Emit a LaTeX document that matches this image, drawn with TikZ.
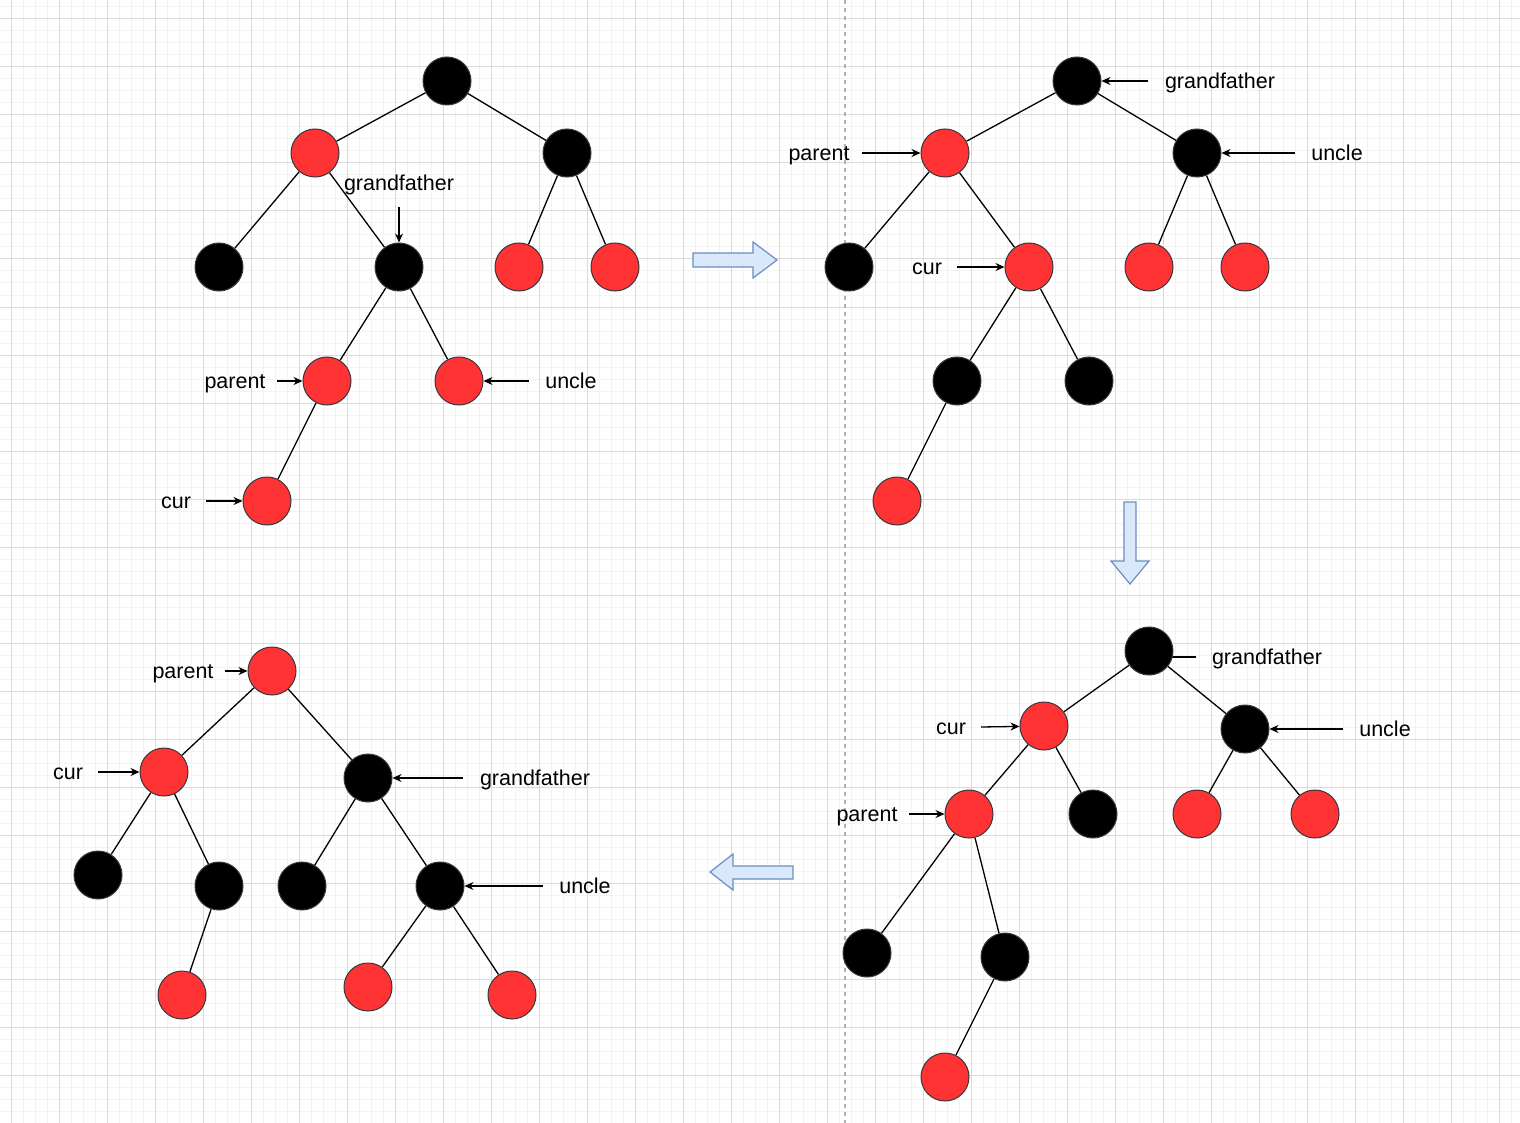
\documentclass[tikz,border=0pt]{standalone}
\usepackage{fontspec}
\setmainfont{Liberation Sans}
\usetikzlibrary{backgrounds,arrows.meta}
\definecolor{rbred}{HTML}{FF3333}
\definecolor{rbstroke}{HTML}{36393D}
\definecolor{gridminor}{HTML}{F3F3F3}
\definecolor{gridmajor}{HTML}{DADADA}
\definecolor{arrfill}{HTML}{DAE8FC}
\definecolor{arrdraw}{HTML}{6C8EBF}
\tikzset{
  rn/.style={circle,draw=rbstroke,fill=rbred,line width=1pt,minimum size=48pt,inner sep=0pt},
  bn/.style={circle,draw=rbstroke,fill=black,line width=1pt,minimum size=48pt,inner sep=0pt},
  edge/.style={draw=black,line width=1.3pt},
  lab/.style={draw=black,line width=1.3pt,-{Stealth[length=9pt,width=8pt]}},
  txt/.style={font=\fontsize{21.5}{25}\selectfont,inner sep=0pt,text=black,anchor=base,yshift=-7.5pt},
  blockarrow/.style={draw=arrdraw,fill=arrfill,line width=1.2pt,line join=miter},
}
\begin{document}
\begin{tikzpicture}[x=1pt,y=-1pt]
\useasboundingbox (0,0) rectangle (1520,1123);
\begin{pgfonlayer}{background}
\fill[white] (0,0) rectangle (1520,1123);
\foreach \x in {-1,11,...,1520} \draw[gridminor,line width=1pt] (\x,0) -- (\x,1123);
\foreach \y in {7,19,...,1123} \draw[gridminor,line width=1pt] (0,\y) -- (1520,\y);
\foreach \x in {11,59,...,1520} \draw[gridmajor,line width=1pt] (\x,0) -- (\x,1123);
\foreach \y in {19,67,...,1123} \draw[gridmajor,line width=1pt] (0,\y) -- (1520,\y);
\draw[color=black!30,line width=1.2pt,dash pattern=on 4pt off 4pt] (845,0) -- (845,1123);
\end{pgfonlayer}

% ---------- Tree 1 ----------
\node[bn] (a1) at (447,81) {};
\node[rn] (b1) at (315,153) {};
\node[bn] (c1) at (567,153) {};
\node[bn] (d1) at (219,267) {};
\node[bn] (e1) at (399,267) {};
\node[rn] (f1) at (519,267) {};
\node[rn] (g1) at (615,267) {};
\node[rn] (h1) at (327,381) {};
\node[rn] (i1) at (459,381) {};
\node[rn] (j1) at (267,501) {};
\node[txt] (t1g) at (399,183) {grandfather};
\node[txt] (t1p) at (235,381) {parent};
\node[txt] (t1u) at (571,381) {uncle};
\node[txt] (t1c) at (176,501) {cur};
\coordinate (q1g) at (399,207);
\coordinate (q1p) at (277,381);
\coordinate (q1u) at (529,381);
\coordinate (q1c) at (206,501);

% ---------- Tree 2 ----------
\node[bn] (a2) at (1077,81) {};
\node[rn] (b2) at (945,153) {};
\node[bn] (c2) at (1197,153) {};
\node[bn] (d2) at (849,267) {};
\node[rn] (e2) at (1029,267) {};
\node[rn] (f2) at (1149,267) {};
\node[rn] (g2) at (1245,267) {};
\node[bn] (h2) at (957,381) {};
\node[bn] (i2) at (1089,381) {};
\node[rn] (j2) at (897,501) {};
\node[txt] (t2g) at (1220,81) {grandfather};
\node[txt] (t2p) at (819,153) {parent};
\node[txt] (t2u) at (1337,153) {uncle};
\node[txt] (t2c) at (927,267) {cur};
\coordinate (q2g) at (1148,81);
\coordinate (q2p) at (862,153);
\coordinate (q2u) at (1295,153);
\coordinate (q2c) at (957,267);

% ---------- Tree 3 ----------
\node[bn] (a3) at (1149,651) {};
\node[rn] (b3) at (1044,726) {};
\node[bn] (c3) at (1245,729) {};
\node[rn] (d3) at (969,814) {};
\node[bn] (e3) at (1093,814) {};
\node[rn] (f3) at (1197,814) {};
\node[rn] (g3) at (1315,814) {};
\node[bn] (h3) at (867,953) {};
\node[bn] (i3) at (1005,957) {};
\node[rn] (j3) at (945,1077) {};
\node[txt] (t3g) at (1267,657) {grandfather};
\node[txt] (t3c) at (951,727) {cur};
\node[txt] (t3u) at (1385,729) {uncle};
\node[txt] (t3p) at (867,814) {parent};
\coordinate (q3g) at (1196,657);
\coordinate (q3c) at (981,727);
\coordinate (q3u) at (1343,729);
\coordinate (q3p) at (909,814);

% ---------- Tree 4 ----------
\node[rn] (a4) at (272,671) {};
\node[rn] (b4) at (164,772) {};
\node[bn] (c4) at (368,778) {};
\node[bn] (d4) at (98,875) {};
\node[bn] (e4) at (219,886) {};
\node[rn] (f4) at (182,995) {};
\node[bn] (g4) at (302,886) {};
\node[bn] (h4) at (440,886) {};
\node[rn] (i4) at (368,987) {};
\node[rn] (j4) at (512,995) {};
\node[txt] (t4p) at (183,671) {parent};
\node[txt] (t4c) at (68,772) {cur};
\node[txt] (t4g) at (535,778) {grandfather};
\node[txt] (t4u) at (585,886) {uncle};
\coordinate (q4p) at (225,671);
\coordinate (q4c) at (98,772);
\coordinate (q4g) at (463,778);
\coordinate (q4u) at (543,886);

% ---------- block arrows ----------
\draw[blockarrow] (693,253) -- (753,253) -- (753,242) -- (777,260) -- (753,278) -- (753,267) -- (693,267) -- cycle;
\draw[blockarrow] (1124,502) -- (1136,502) -- (1136,561) -- (1149,561) -- (1130,584) -- (1111,561) -- (1124,561) -- cycle;
\draw[blockarrow] (793,866) -- (733,866) -- (733,854) -- (710,872) -- (733,890) -- (733,879) -- (793,879) -- cycle;

\begin{pgfonlayer}{background}
% tree 1 edges
\draw[edge] (a1) -- (b1); \draw[edge] (a1) -- (c1);
\draw[edge] (b1) -- (d1); \draw[edge] (b1) -- (e1);
\draw[edge] (c1) -- (f1); \draw[edge] (c1) -- (g1);
\draw[edge] (e1) -- (h1); \draw[edge] (e1) -- (i1);
\draw[edge] (h1) -- (j1);
% tree 2 edges
\draw[edge] (a2) -- (b2); \draw[edge] (a2) -- (c2);
\draw[edge] (b2) -- (d2); \draw[edge] (b2) -- (e2);
\draw[edge] (c2) -- (f2); \draw[edge] (c2) -- (g2);
\draw[edge] (e2) -- (h2); \draw[edge] (e2) -- (i2);
\draw[edge] (h2) -- (j2);
% tree 3 edges
\draw[edge] (a3) -- (b3); \draw[edge] (a3) -- (c3);
\draw[edge] (b3) -- (d3); \draw[edge] (b3) -- (e3);
\draw[edge] (c3) -- (f3); \draw[edge] (c3) -- (g3);
\draw[edge] (d3) -- (h3); \draw[edge] (d3) -- (i3);
\draw[edge] (i3) -- (j3);
% tree 4 edges
\draw[edge] (a4) -- (b4); \draw[edge] (a4) -- (c4);
\draw[edge] (b4) -- (d4); \draw[edge] (b4) -- (e4);
\draw[edge] (e4) -- (f4);
\draw[edge] (c4) -- (g4); \draw[edge] (c4) -- (h4);
\draw[edge] (h4) -- (i4); \draw[edge] (h4) -- (j4);
% grandfather line in tree 3 (tip hidden under node)
\draw[edge] (q3g) -- (q3g -| a3);
\end{pgfonlayer}

% label arrows
\draw[lab] (q1g) -- (e1);
\draw[lab] (q1p) -- (h1);
\draw[lab] (q1u) -- (i1);
\draw[lab] (q1c) -- (j1);
\draw[lab] (q2g) -- (a2);
\draw[lab] (q2p) -- (b2);
\draw[lab] (q2u) -- (c2);
\draw[lab] (q2c) -- (e2);
\draw[lab] (q3c) -- (b3);
\draw[lab] (q3u) -- (c3);
\draw[lab] (q3p) -- (d3);
\draw[lab] (q4p) -- (a4);
\draw[lab] (q4c) -- (b4);
\draw[lab] (q4g) -- (c4);
\draw[lab] (q4u) -- (h4);
\end{tikzpicture}
\end{document}
